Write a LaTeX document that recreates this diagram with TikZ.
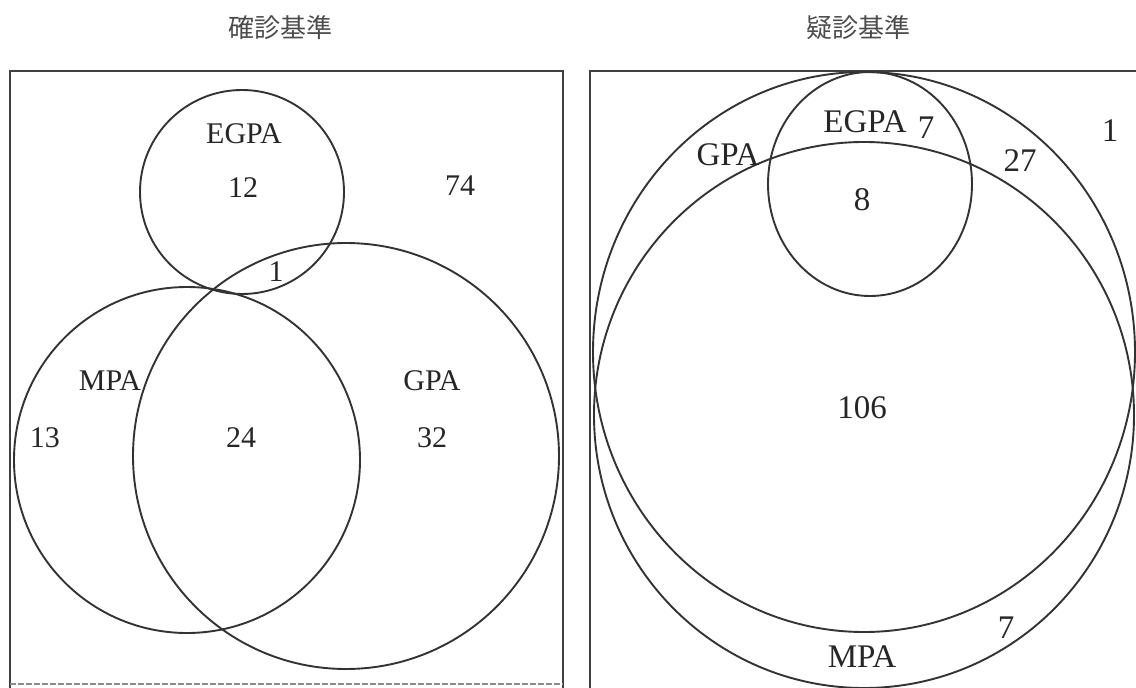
\documentclass[tikz,border=0pt]{standalone}
\usepackage{fontspec}
\setmainfont{Liberation Serif}
\newfontfamily\cjk{Noto Sans CJK JP}
\begin{document}
\begin{tikzpicture}[x=1pt,y=-1pt,
  frame/.style={draw=black!75,line width=2.4pt},
  set/.style={draw=black!80,line width=1.9pt},
  lbl/.style={font=\fontsize{30}{34}\selectfont,text=black!85,inner sep=0pt},
  rlbl/.style={lbl,font=\fontsize{33}{37}\selectfont},
  ttl/.style={font=\cjk\fontsize{26}{29}\selectfont,text=black!70,inner sep=0pt}]
\useasboundingbox (0,0) rectangle (1136,688);

% titles
\node[ttl] (t1) at (280,28) {確診基準};
\node[ttl] (t2) at (858,28) {疑診基準};

% frames
\draw[frame] (10,688) -- (10,71) -- (563,71) -- (563,688);
\draw[black!45,line width=1.2pt,dash pattern=on 6pt off 2pt] (10,684) -- (563,684);
\draw[frame] (590,688) -- (590,71) -- (1136,71);

% definite criteria sets
\draw[set] (242,192) circle [radius=102pt];
\draw[set] (187,460) circle [radius=173pt];
\draw[set] (346,456) circle [radius=213pt];

\node[lbl] (le)  at (244,134) {EGPA};
\node[lbl] (l12) at (243,188) {12};
\node[lbl] (l74) at (460,186) {74};
\node[lbl] (l1)  at (276,272) {1};
\node[lbl] (lm)  at (110,381) {MPA};
\node[lbl] (lg)  at (432,381) {GPA};
\node[lbl] (l13) at (45,438) {13};
\node[lbl] (l24) at (241,438) {24};
\node[lbl] (l32) at (432,438) {32};

% probable criteria sets
\draw[set] (864,352) ellipse [x radius=271pt, y radius=280pt];
\draw[set] (864,415) ellipse [x radius=270pt, y radius=273pt];
\draw[set] (870,184) ellipse [x radius=102pt, y radius=112pt];

\node[rlbl] (re)   at (865,122) {EGPA};
\node[rlbl] (r7a)  at (926,128) {7};
\node[rlbl] (rg)   at (728,155) {GPA};
\node[rlbl] (r8)   at (862,200) {8};
\node[rlbl] (r27)  at (1020,161) {27};
\node[rlbl] (r1)   at (1110,131) {1};
\node[rlbl] (r106) at (862,408) {106};
\node[rlbl] (r7b)  at (1006,628) {7};
\node[rlbl] (rm)   at (862,657) {MPA};
\end{tikzpicture}
\end{document}
